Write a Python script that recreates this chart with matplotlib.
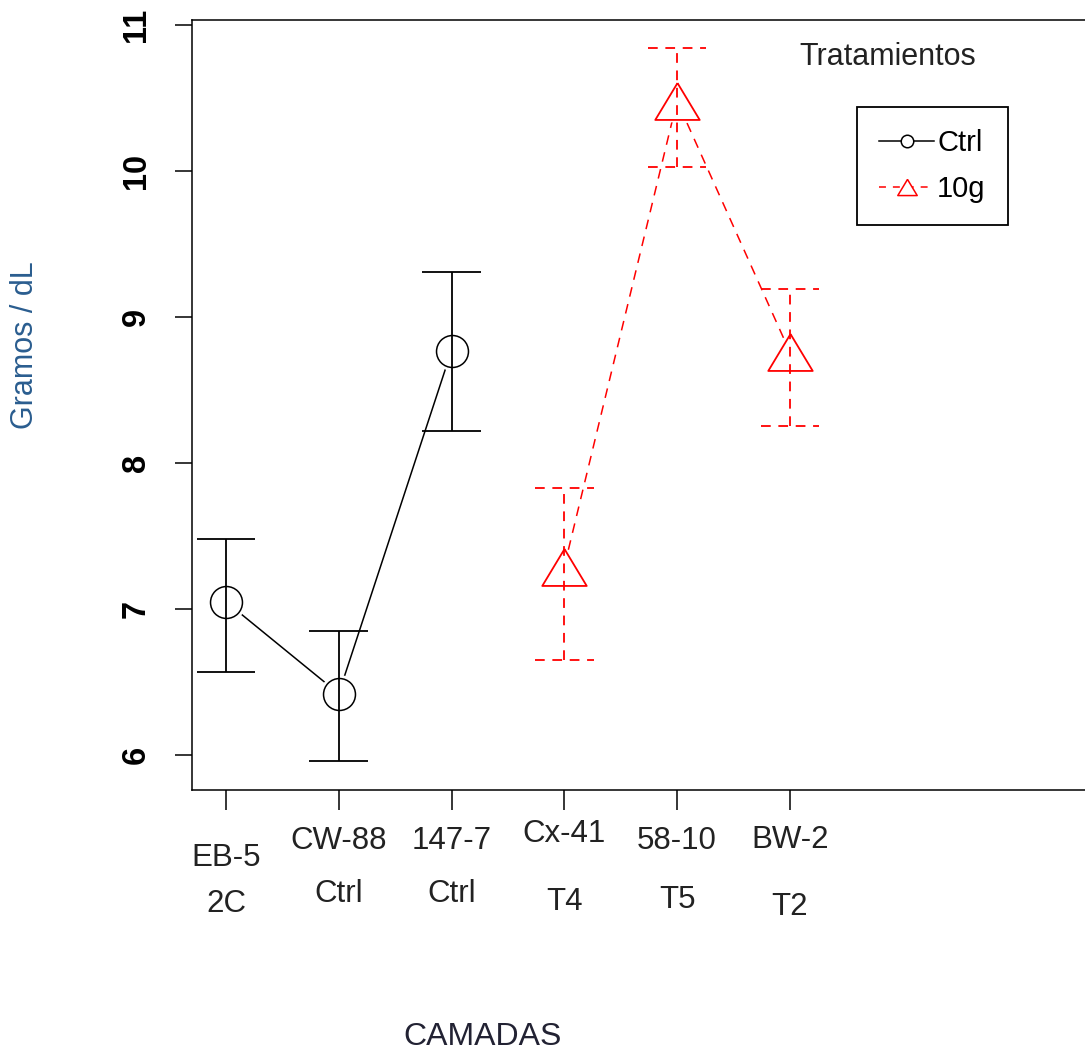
import matplotlib
matplotlib.use('Agg')
import matplotlib.pyplot as plt
from matplotlib.lines import Line2D
from matplotlib.transforms import blended_transform_factory

plt.rcParams['font.family'] = ['Liberation Sans', 'DejaVu Sans']
plt.rcParams['lines.scale_dashes'] = False

# data
camadas = ['EB-5', 'CW-88', '147-7', 'Cx-41', '58-10', 'BW-2']
grupos = ['2C', 'Ctrl', 'Ctrl', 'T4', 'T5', 'T2']

ctrlX = [1, 2, 3]
ctrlMean = [7.05, 6.42, 8.77]
ctrlUpper = [7.48, 6.85, 9.31]
ctrlLower = [6.57, 5.96, 8.22]

tenX = [4, 5, 6]
tenMean = [7.29, 10.48, 8.76]
tenUpper = [7.83, 10.84, 9.19]
tenLower = [6.65, 10.03, 8.25]

yTicks = [6, 7, 8, 9, 10, 11]

# label heights (pixels from top) - the labels are staggered in the reference
nameRowPx = [858, 841, 841, 834, 841, 840]
groupRowPx = [904, 894, 894, 902, 900, 907]

W, H = 1085, 1055
fig = plt.figure(figsize=(W / 100, H / 100), dpi=100)
ax = fig.add_axes([192 / W, 1 - 790 / H, (1100 - 192) / W, (790 - 20) / H])

ax.set_xlim(0.699, 8.75)
ax.set_ylim(5.76, 11.034)

dash = (0, (7, 5.5))
capHalf = 0.26
tri = [(0, 0.83), (-1, -0.83), (1, -0.83), (0, 0.83)]  # R-like open triangle, closed path

# connecting lines
ax.plot(ctrlX, ctrlMean, color='black', lw=1.1, zorder=2)
ax.plot(tenX, tenMean, color='red', lw=1.1, linestyle=dash, zorder=2)

# white halo so the lines stop short of the points (like type = "b")
ax.plot(ctrlX, ctrlMean, 'o', ms=27, mfc='white', mec='white', zorder=3)
ax.plot(tenX, tenMean, marker=tri, ls='none', ms=35, mfc='white', mec='white', zorder=3)

# error bars
ax.vlines(ctrlX, ctrlLower, ctrlUpper, color='black', lw=1.3, zorder=4)
ax.hlines(ctrlUpper, [x - capHalf for x in ctrlX], [x + capHalf for x in ctrlX], color='black', lw=1.3, zorder=4)
ax.hlines(ctrlLower, [x - capHalf for x in ctrlX], [x + capHalf for x in ctrlX], color='black', lw=1.3, zorder=4)
ax.vlines(tenX, tenLower, tenUpper, color='red', lw=1.3, linestyles=[dash], zorder=4)
ax.hlines(tenUpper, [x - capHalf for x in tenX], [x + capHalf for x in tenX], color='red', lw=1.3, linestyles=[dash], zorder=4)
ax.hlines(tenLower, [x - capHalf for x in tenX], [x + capHalf for x in tenX], color='red', lw=1.3, linestyles=[dash], zorder=4)

# points
ax.plot(ctrlX, ctrlMean, 'o', ms=23, mfc='none', mec='black', mew=1.1, zorder=5)
ax.plot(tenX, tenMean, marker=tri, ls='none', ms=32, mfc='none', mec='red', mew=1.3, zorder=5)

# axes look
for s in ['left', 'top', 'bottom']:
    ax.spines[s].set_linewidth(1.1)
ax.spines['right'].set_visible(False)

ax.set_yticks(yTicks)
ax.set_yticklabels([str(v) for v in yTicks], rotation=90, va='center',
                   fontweight='bold', fontsize=23.5)
ax.tick_params(axis='y', length=12, width=1.1, pad=17)
ax.set_xticks(range(1, len(camadas) + 1))
ax.set_xticklabels([''] * len(camadas))
ax.tick_params(axis='x', length=14.5, width=1.1)

trans = blended_transform_factory(ax.transData, fig.transFigure)
for i in range(len(camadas)):
    ax.text(i + 1, 1 - nameRowPx[i] / H, camadas[i], transform=trans, ha='center', va='center',
            fontsize=22.5, color='#222222', clip_on=False)
    ax.text(i + 1, 1 - groupRowPx[i] / H, grupos[i], transform=trans, ha='center', va='center',
            fontsize=22.5, color='#222222', clip_on=False)

fig.text(483 / W, 1 - 1037 / H, 'CAMADAS', ha='center', va='center', fontsize=23, color='#222233')
fig.text(25 / W, 1 - 345 / H, 'Gramos / dL', rotation=90, ha='center', va='center',
         fontsize=22, color='#2a5d8f')
fig.text(888 / W, 1 - 57 / H, 'Tratamientos', ha='center', va='center', fontsize=22, color='#222222')

handles = [
    Line2D([], [], color='black', lw=1.1, marker='o', ms=9, mfc='white', mew=1.1),
    Line2D([], [], color='red', lw=1.1, linestyle=(0, (5, 5)), marker=tri,
           ms=14, mfc='white', mew=1.1),
]
leg = fig.legend(handles, ['Ctrl', '10g'], loc='upper left', bbox_to_anchor=(857 / W, 1 - 107 / H),
                 bbox_transform=fig.transFigure, fontsize=21, frameon=True, fancybox=False,
                 edgecolor='black', framealpha=1, handlelength=1.9, handletextpad=0.1,
                 borderpad=0.75, labelspacing=0.62, borderaxespad=0)
leg.get_frame().set_linewidth(1.3)

fig.savefig('out.png', dpi=100)
